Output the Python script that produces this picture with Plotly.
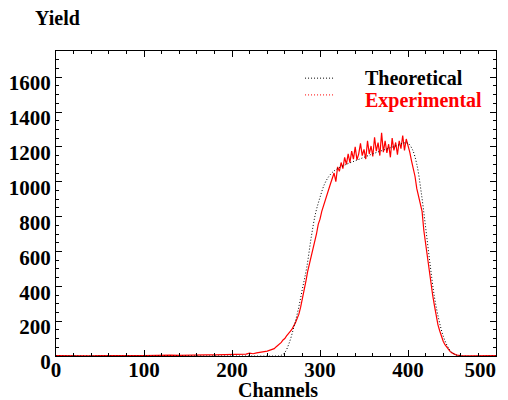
import plotly.graph_objects as go

# theoretical yield curve (smooth)
theo_ch = [0, 100, 200, 250, 255, 260, 265, 270, 275, 280, 285, 290, 295, 300,
           305, 310, 315, 320, 330, 340, 350, 360, 370, 380, 390, 395, 400,
           405, 410, 415, 420, 425, 430, 435, 440, 445, 450, 455, 460, 500]
theo_y = [0, 0, 0, 0, 2, 20, 75, 160, 260, 385, 510, 680, 820, 910,
          985, 1030, 1058, 1075, 1100, 1120, 1140, 1160, 1178, 1195, 1212, 1222, 1220,
          1185, 1100, 940, 740, 530, 340, 210, 115, 55, 20, 5, 0, 0]

# experimental spectrum (noisy)
exp_ch = [0, 10, 20, 30, 40, 50, 60, 70, 80, 90, 100, 110, 120, 130, 140, 150,
          160, 170, 180, 190, 200, 204, 208, 212, 216, 220, 224, 228, 232, 236,
          240, 244, 248,
          250, 252, 254, 256, 258, 260, 262, 264, 266, 268, 270, 272, 274, 276,
          278, 280, 282, 284, 286, 288, 290, 292, 294, 296, 298, 300, 302, 304,
          306, 308, 310, 312, 314, 316, 318, 320, 322, 324, 326, 328, 330, 332,
          334, 336, 338, 340, 342, 344, 346, 348, 350, 352, 354, 356, 358, 360,
          362, 364, 366, 368, 370, 372, 374, 376, 378, 380, 382, 384, 386, 388,
          390, 392, 394, 396, 398, 400, 402, 404, 406, 408, 410, 412, 414, 416,
          418, 420, 422, 424, 426, 428, 430, 432, 434, 436, 438, 440, 442, 444,
          446, 448, 450, 452, 454, 456, 458, 460, 470, 480, 490, 500]
exp_y = [2, 1, 3, 2, 1, 2, 3, 2, 1, 3, 2, 4, 3, 5, 4, 6, 5, 7, 6, 8, 10, 12, 9,
         14, 11, 16, 13, 18, 20, 24, 28, 35, 42,
         52, 60, 70, 78, 92, 100, 115, 125, 140, 152, 170, 190, 215, 240,
         280, 325, 380, 430, 485, 525, 575, 615, 660, 700, 755, 785, 830, 865,
         900, 925, 955, 990, 1020, 1050, 1000, 1085, 1060, 1110, 1075, 1140, 1100, 1160,
         1110, 1175, 1130, 1200, 1125, 1160, 1220, 1150, 1185, 1130, 1235, 1160, 1205, 1145,
         1255, 1175, 1225, 1150, 1280, 1170, 1235, 1165, 1215, 1140, 1250, 1180, 1225, 1155,
         1235, 1190, 1265, 1180, 1245, 1210, 1170, 1120, 1080, 1030, 960, 920, 870, 830,
         720, 640, 580, 500, 420, 350, 290, 230, 180, 145, 110, 85, 65, 50,
         35, 25, 18, 12, 8, 5, 3, 2, 1, 2, 1, 2]

x_ticks = [0, 100, 200, 300, 400, 500]
# wide spaces after 500 nudge the last label inside the visible page
x_labels = ["0", "100", "200", "300", "400", "500\u2003\u2002"]

legend_names = ["Theoretical", "Experimental"]
legend_colors = ["black", "red"]

font = "Liberation Serif, Times New Roman, serif"

fig = go.Figure()
fig.add_trace(go.Scatter(x=exp_ch, y=exp_y, mode="lines", showlegend=False,
                         line=dict(color="red", width=1.2)))
fig.add_trace(go.Scatter(x=theo_ch, y=theo_y, mode="lines", line_shape="spline",
                         showlegend=False,
                         line=dict(color="black", width=1, dash="1px,2px")))

# hand-made legend: short dotted sample + bold label
line_y = [0.911, 0.856]
text_y = [0.911, 0.839]
for name, col, ly, ty in zip(legend_names, legend_colors, line_y, text_y):
    fig.add_shape(type="line", xref="paper", yref="paper",
                  x0=0.566, x1=0.630, y0=ly, y1=ly,
                  line=dict(color=col, width=1, dash="1px,2px"))
    fig.add_annotation(text=f"<b>{name}</b>", xref="paper", yref="paper",
                       x=0.698, y=ty, xanchor="left", yanchor="middle",
                       showarrow=False,
                       font=dict(family=font, size=20, color=col))

axis = dict(showline=True, linecolor="black", linewidth=1, mirror="ticks",
            ticks="inside", ticklen=6, tickcolor="black", showgrid=False,
            zeroline=False, automargin=False,
            tickfont=dict(family=font, size=21, color="black"))

fig.update_xaxes(range=[0, 500], tickvals=x_ticks,
                 ticktext=[f"<b>{t}</b>" for t in x_labels],
                 ticklabelstandoff=-5, ticklabeloverflow="allow",
                 minor=dict(dtick=20, ticks="inside", ticklen=3, tickcolor="black"),
                 **axis)
fig.update_yaxes(range=[0, 1750], dtick=200, tickprefix="<b>", ticksuffix="</b>",
                 ticklabelshift=6,
                 minor=dict(dtick=50, ticks="inside", ticklen=3, tickcolor="black"),
                 **axis)

fig.add_annotation(text="<b>Yield</b>", xref="paper", yref="paper",
                   x=0.0, y=1.0, xshift=1, yshift=33,
                   xanchor="center", yanchor="middle", showarrow=False,
                   font=dict(family=font, size=20, color="black"))
fig.add_annotation(text="<b>Channels</b>", xref="paper", yref="paper",
                   x=0.5, y=0.0, xshift=2, yshift=-34,
                   xanchor="center", yanchor="middle", showarrow=False,
                   font=dict(family=font, size=20, color="black"))

# page body adds an 8px offset, so the figure is 8px smaller each way
fig.update_layout(
    width=500, height=392,
    margin=dict(l=48, r=12, t=43, b=44),
    plot_bgcolor="white", paper_bgcolor="white",
    showlegend=False,
)

fig.write_html("out.html")
